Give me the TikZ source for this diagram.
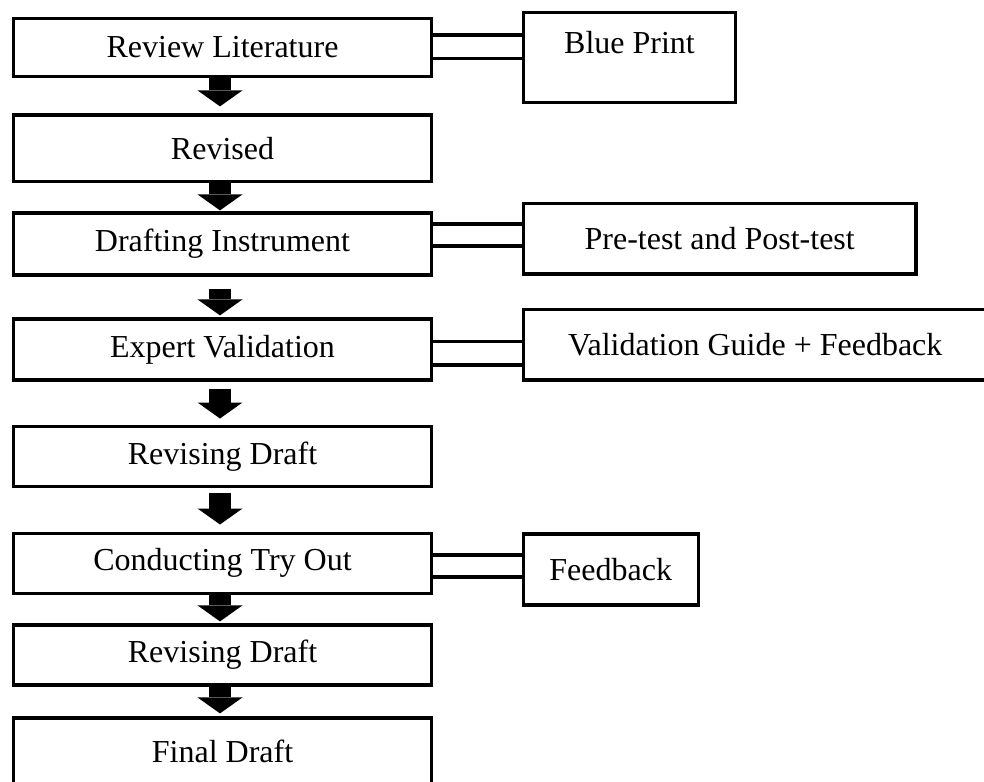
\documentclass[tikz,border=0pt]{standalone}
\usepackage{fontspec}
\setmainfont{Liberation Serif}
\usetikzlibrary{arrows.meta}

\begin{document}
\begin{tikzpicture}[x=0.5pt, y=-0.5pt, font=\fontsize{16}{19}\selectfont,
                    stage/.style = {draw, line width=1.6pt, minimum width=209.2pt, inner sep=0pt},
                    sidebox/.style = {draw, line width=1.6pt, inner sep=0pt},
                    twin/.style = {line width=1.6pt},
                    bigarrow/.style = {line width=11pt, -{Triangle[width=22.5pt, length=8pt, line width=0pt]}}]
                    \useasboundingbox (0,0) rectangle (984,781);
                    % main column
                    \node[stage, minimum height=29.2pt] (rl) at (222.5,47.5) {Review Literature};
                    \node[stage, minimum height=33.3pt] (rev) at (222.5,148.3) {Revised};
                    \node[stage, minimum height=31pt] (dra) at (222.5,244) {Drafting Instrument};
                    \node[stage, minimum height=30.5pt] (exp) at (222.5,349.5) {Expert Validation};
                    \node[stage, minimum height=30pt] (rd1) at (222.5,456.7) {Revising Draft};
                    \node[stage, minimum height=30pt] (con) at (222.5,563.3) {Conducting Try Out};
                    \node[stage, minimum height=30pt] (rd2) at (222.5,655) {Revising Draft};
                    \node[stage, minimum height=33pt] (fin) at (222.5,751) {Final Draft};
                    % side boxes
                    \node[sidebox, minimum width=106.2pt, minimum height=45pt] (bp) at (629.5,57.3) {};
                    \node[anchor=base] (bpt) at (629.5,54) {Blue Print};
                    \node[sidebox, minimum width=196.35pt, minimum height=35.25pt] (pt) at (719.7,238.8) {Pre-test and Post-test};
                    \node[sidebox, minimum width=231.85pt, minimum height=35.35pt] (vg) at (755.2,344.7) {Validation Guide + Feedback};
                    \node[sidebox, minimum width=87.5pt, minimum height=35.5pt] (fb) at (610.7,569.5) {Feedback};
                    % double links
                    \draw[twin] ([yshift=6.25pt]rl.east) -- ([yshift=6.25pt]rl.east -| bp.west);
                    \draw[twin] ([yshift=-5.4pt]rl.east) -- ([yshift=-5.4pt]rl.east -| bp.west);
                    \draw[twin] ([yshift=10pt]dra.east) -- ([yshift=10pt]dra.east -| pt.west);
                    \draw[twin] ([yshift=-1pt]dra.east) -- ([yshift=-1pt]dra.east -| pt.west);
                    \draw[twin] ([yshift=3.9pt]exp.east) -- ([yshift=3.9pt]exp.east -| vg.west);
                    \draw[twin] ([yshift=-7.75pt]exp.east) -- ([yshift=-7.75pt]exp.east -| vg.west);
                    \draw[twin] ([yshift=4.15pt]con.east) -- ([yshift=4.15pt]con.east -| fb.west);
                    \draw[twin] ([yshift=-6.85pt]con.east) -- ([yshift=-6.85pt]con.east -| fb.west);
                    % block arrows
                    \draw[bigarrow, shorten >=3.5pt] ([xshift=-1.25pt]rl.south) -- ([xshift=-1.25pt]rev.north);
                    \draw[bigarrow, shorten >=0.5pt] ([xshift=-1.25pt]rev.south) -- ([xshift=-1.25pt]dra.north);
                    \draw[bigarrow, shorten <=6pt, shorten >=1pt] ([xshift=-1.25pt]dra.south) -- ([xshift=-1.25pt]exp.north);
                    \draw[bigarrow, shorten <=3.5pt, shorten >=3.3pt] ([xshift=-1.25pt]exp.south) -- ([xshift=-1.25pt]rd1.north);
                    \draw[bigarrow, shorten <=2.5pt, shorten >=3.6pt] ([xshift=-1.25pt]rd1.south) -- ([xshift=-1.25pt]con.north);
                    \draw[bigarrow, shorten >=1pt] ([xshift=-1.25pt]con.south) -- ([xshift=-1.25pt]rd2.north);
                    \draw[bigarrow, shorten >=1.5pt] ([xshift=-1.25pt]rd2.south) -- ([xshift=-1.25pt]fin.north);
\end{tikzpicture}
\end{document}
